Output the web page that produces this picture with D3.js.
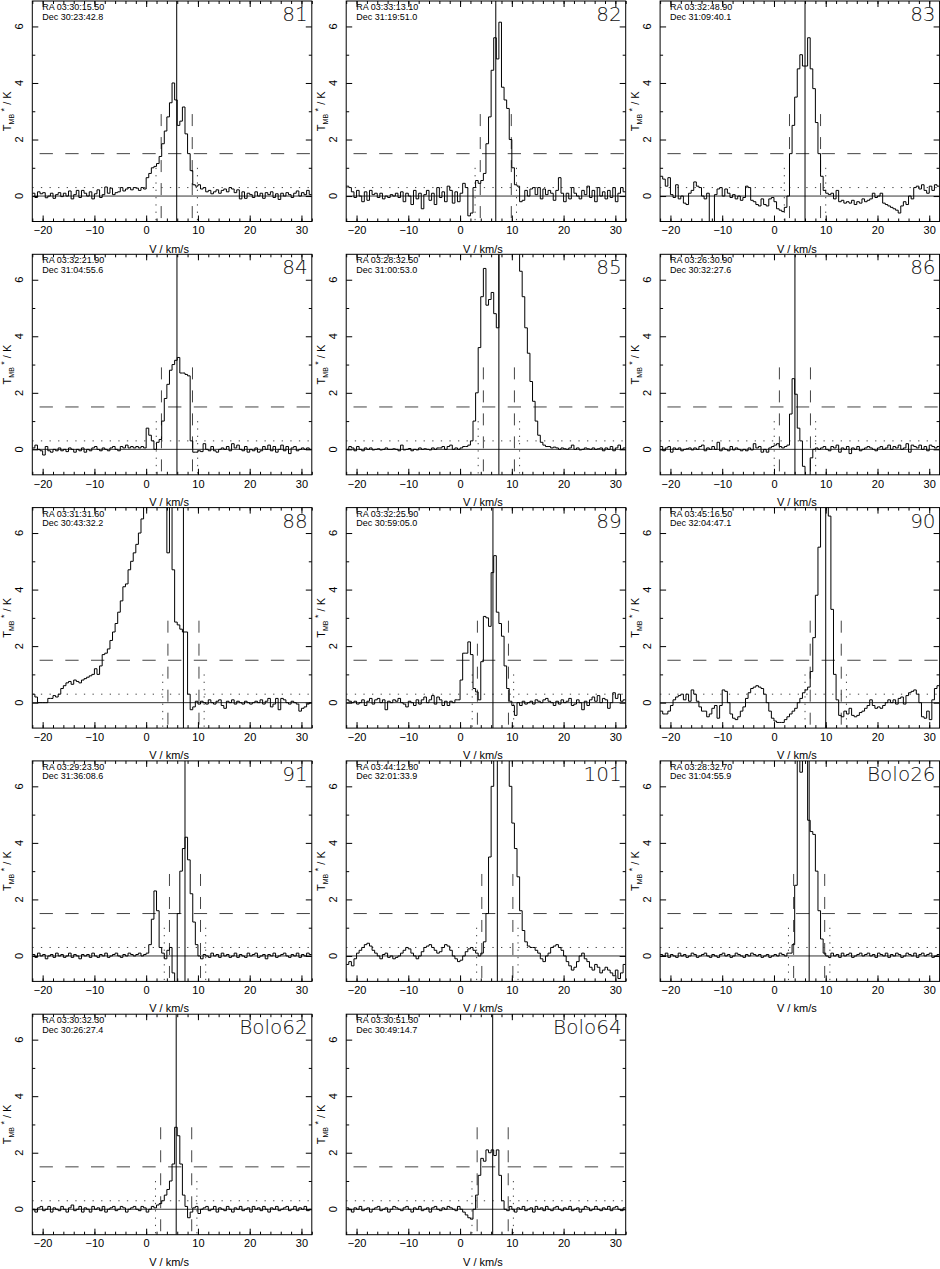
<!DOCTYPE html>
<html>
<head>
<meta charset="utf-8">
<script src="https://cdn.jsdelivr.net/npm/d3@7"></script>
<style>
  body { margin: 0; background: #fff; }
  svg { display: block; font-family: "Liberation Sans", Arial, sans-serif; }
</style>
</head>
<body>
<svg id="chart" width="940" height="1269"></svg>
<script>
// channels: 0.5 km/s wide, first channel starts at -22 km/s (108 channels)
const vStart = -22;
const chanWidth = 0.5;

const spec81 = [
  0.1,-0.05,0.15,0.08,0.12,-0.06,0.0,0.1,-0.08,0.05,0.12,-0.02,0.1,0.0,0.18,-0.1,0.05,0.2,-0.05,0.2,
  0.1,0.0,0.15,-0.1,0.08,0.22,-0.05,0.05,0.32,0.1,0.28,0.05,0.12,0.15,0.3,0.18,0.25,0.3,0.22,0.3,
  0.28,0.2,0.3,0.25,0.65,0.8,1.0,1.05,1.15,1.4,1.85,2.3,2.8,3.3,4.0,3.4,2.5,2.65,3.15,2.2,
  1.5,0.9,0.4,0.35,0.4,0.25,0.3,0.15,0.2,0.08,0.15,0.22,0.1,0.2,0.25,0.15,0.3,0.25,0.12,0.22,
  -0.1,0.15,-0.08,0.1,0.05,-0.05,0.15,0.0,0.1,-0.08,0.12,0.05,0.15,-0.05,0.08,-0.12,0.1,0.0,0.12,0.05,
  -0.05,0.1,0.18,0.0,0.12,0.05,0.2,0.05];
const spec82 = [
  0.35,0.3,0.15,-0.05,0.2,0.0,-0.2,0.15,-0.15,0.2,0.05,0.1,-0.05,0.1,-0.1,0.0,-0.05,0.05,0.0,0.1,
  -0.05,0.15,-0.2,0.1,0.0,-0.3,0.2,-0.1,0.1,-0.45,0.05,0.2,-0.15,0.1,-0.3,0.3,-0.05,0.15,-0.2,0.35,
  0.2,-0.25,0.15,-0.2,0.1,0.45,0.3,-0.7,-0.6,0.3,0.55,0.45,0.55,0.8,1.85,2.8,4.45,5.6,4.85,6.15,
  3.85,3.4,3.1,2.0,1.0,0.4,0.35,-0.2,-0.15,0.2,0.0,0.25,0.3,0.05,0.3,-0.1,0.25,0.05,0.2,0.1,
  -0.15,0.2,0.65,0.1,-0.2,0.1,-0.1,0.3,0.1,0.0,-0.1,0.2,0.05,0.35,-0.05,0.2,-0.2,0.3,0.0,0.15,
  -0.1,0.2,-0.05,0.3,-0.2,0.1,0.3,0.15];
const spec83 = [
  0.7,0.6,0.35,0.65,0.05,-0.05,0.4,-0.1,0.0,-0.25,-0.3,0.1,0.2,0.5,0.35,0.3,0.0,-0.1,0.1,-0.9,
  -0.9,0.05,0.25,0.3,0.0,0.25,0.1,-0.05,0.05,-0.1,0.0,-0.15,-0.05,0.35,0.3,-0.15,-0.2,-0.3,-0.35,-0.1,
  -0.3,-0.35,-0.1,-0.05,-0.2,-0.45,-0.5,-0.55,-0.4,0.0,1.5,2.5,3.5,4.5,5.0,4.6,4.6,5.6,4.5,3.8,
  2.6,1.5,0.7,0.2,0.1,0.05,0.1,-0.1,0.2,-0.2,-0.15,-0.25,-0.2,-0.25,-0.15,-0.3,-0.2,-0.25,-0.1,-0.2,
  -0.15,-0.1,0.1,-0.05,0.0,0.1,-0.25,-0.3,-0.35,-0.4,-0.45,-0.5,-0.6,-0.35,-0.2,-0.3,0.0,-0.1,0.3,0.35,
  0.25,0.4,0.2,0.1,0.35,0.2,0.4,0.35];
const spec84 = [
  0.05,0.15,0.0,-0.05,-0.2,0.1,-0.05,-0.1,0.0,-0.05,0.05,-0.05,0.0,-0.08,0.05,0.0,-0.1,0.0,-0.05,0.05,
  -0.1,0.0,-0.05,0.05,0.1,0.0,-0.05,0.05,0.0,-0.05,0.05,0.1,0.0,-0.05,0.1,0.05,0.15,0.05,0.1,0.05,
  0.1,0.05,0.1,0.05,0.75,0.5,0.3,0.0,0.25,0.35,1.0,1.8,2.3,2.8,3.0,3.15,3.25,2.7,2.7,2.65,
  2.6,0.3,-0.1,-0.1,-0.05,-0.08,0.2,0.0,-0.05,0.1,-0.05,-0.1,0.0,0.05,0.0,0.1,-0.05,0.2,0.05,0.15,
  0.0,-0.05,0.1,-0.1,0.0,-0.05,0.05,-0.1,-0.05,0.1,0.0,0.15,-0.05,0.1,-0.1,0.0,0.15,-0.05,0.1,-0.15,
  0.05,0.1,-0.05,0.0,0.05,0.0,0.05,0.0];
const spec85 = [
  0.0,0.1,0.05,-0.05,0.1,0.0,-0.05,0.05,0.0,0.05,-0.02,0.0,0.02,-0.02,0.0,0.05,0.0,0.0,0.02,0.0,
  -0.05,0.15,-0.02,0.0,0.03,-0.05,0.0,-0.02,0.05,0.0,0.02,0.0,-0.02,0.05,0.0,0.05,0.05,0.1,0.0,0.1,
  0.15,0.0,0.05,0.0,0.05,0.1,0.1,0.15,0.3,1.0,2.0,3.6,5.4,6.4,5.1,5.3,5.55,4.8,4.3,9.0,
  10,10,9.5,9,8.5,8,7.5,6.3,5.4,4.3,3.4,2.4,1.7,1.0,0.5,0.25,0.15,0.1,0.1,0.05,
  0.08,0.05,0.0,0.05,0.02,0.0,0.05,0.15,0.0,0.05,-0.02,0.0,0.05,0.02,0.0,0.05,0.0,0.02,0.05,-0.05,
  0.05,0.0,0.1,-0.05,0.05,0.15,0.0,0.05];
const spec86 = [
  0.1,-0.05,0.05,0.1,-0.1,0.05,0.0,0.05,-0.05,0.0,0.02,0.05,-0.02,0.05,0.0,0.1,0.15,-0.05,0.05,0.0,
  0.1,0.0,0.25,-0.05,0.05,0.0,-0.05,0.1,-0.02,0.05,0.0,-0.05,0.0,-0.05,0.05,-0.02,0.2,0.05,0.1,-0.1,
  0.0,-0.1,0.05,0.1,0.15,0.2,0.1,0.05,0.1,0.15,1.25,2.5,1.95,0.75,0.3,-0.6,-1.2,-1.2,-0.3,0.0,
  0.05,0.0,0.05,0.1,0.0,-0.05,0.1,0.05,0.15,-0.1,0.05,0.0,0.1,-0.15,0.05,0.0,0.1,-0.05,0.0,0.05,
  0.1,0.05,0.0,-0.05,0.05,0.1,0.0,0.05,0.15,0.0,0.1,0.05,0.15,0.0,0.05,0.2,-0.1,0.15,0.1,0.05,
  0.15,0.0,0.1,-0.05,0.15,0.1,0.05,0.1];
const spec88 = [
  0.3,0.2,0.0,0.0,0.0,0.0,0.15,0.15,0.25,0.2,0.3,0.5,0.6,0.7,0.75,0.65,0.8,0.75,0.7,0.8,
  0.85,0.9,0.95,1.0,1.2,1.0,1.3,1.7,1.75,1.9,2.2,2.5,2.8,3.2,3.6,4.1,4.2,4.7,5.0,5.3,
  5.6,6.0,6.5,7.5,9,10,11,12,12,11,10,9,5.3,9,4.7,2.85,2.75,2.6,2.5,2.5,
  0.3,-0.25,-0.15,0.05,-0.05,0.05,0.0,-0.05,0.1,0.0,-0.05,0.05,0.1,-0.1,-0.2,0.05,0.0,0.1,-0.05,0.05,
  0.0,-0.05,0.05,0.0,-0.05,0.0,0.05,0.0,0.1,-0.05,0.05,0.15,-0.15,-0.05,0.15,-0.25,0.15,0.1,0.0,-0.05,
  0.05,0.0,-0.05,-0.3,-0.2,-0.15,-0.05,0.0];
const spec89 = [
  0.1,0.05,0.0,0.05,-0.05,0.0,0.1,-0.1,0.05,0.15,-0.05,0.1,0.15,0.0,0.1,-0.25,0.05,0.0,0.1,0.05,
  0.15,0.0,-0.05,-0.15,0.05,0.0,-0.1,0.1,-0.05,0.1,0.2,0.0,0.1,0.25,-0.05,0.2,0.1,-0.1,0.05,-0.1,
  0.05,0.0,0.1,0.1,0.8,1.75,1.75,2.15,1.7,0.5,0.38,0.1,1.45,3.05,3.0,2.7,4.6,5.2,3.2,2.8,
  2.35,1.3,0.5,0.05,-0.1,-0.45,0.0,-0.1,0.05,-0.05,0.0,0.05,-0.05,0.1,0.05,0.0,0.1,0.15,0.05,0.0,
  -0.1,0.05,-0.05,0.1,0.0,0.05,0.15,-0.1,-0.05,0.1,0.0,-0.25,0.05,-0.1,0.1,0.2,0.05,0.25,0.0,0.15,
  0.1,-0.2,0.0,0.35,0.15,0.3,0.05,0.1];
const spec90 = [
  -0.3,-0.4,-0.4,-0.3,-0.1,0.1,0.2,0.25,0.3,0.1,0.3,0.05,0.45,0.3,0.05,-0.15,-0.3,-0.3,-0.5,-0.4,
  -0.2,-0.1,-0.55,-0.1,0.45,0.4,0.0,-0.4,-0.55,-0.6,-0.5,-0.3,-0.15,0.15,0.35,0.5,0.55,0.6,0.55,0.5,
  0.3,0.0,-0.3,-0.55,-0.65,-0.7,-0.7,-0.7,-0.6,-0.5,-0.4,-0.3,-0.2,0.0,0.15,0.35,0.45,0.55,1.1,2.3,
  3.8,5.5,8,9,8.5,6.6,3.3,1.0,0.1,-0.45,-0.5,-0.3,-0.4,-0.2,-0.45,-0.5,-0.45,-0.35,-0.3,-0.2,
  -0.1,0.1,-0.1,-0.2,-0.15,-0.2,-0.1,0.0,0.1,0.0,0.1,-0.05,0.15,0.2,-0.05,0.25,0.35,0.4,0.45,0.3,
  0.0,-0.5,-0.55,-0.3,-0.6,0.1,0.5,0.6];
const spec91 = [
  0.05,-0.05,0.1,0.0,0.05,-0.1,0.0,0.05,-0.05,0.1,0.0,0.05,-0.05,0.0,0.1,-0.05,0.05,0.0,-0.1,0.05,
  0.0,0.05,-0.05,0.1,0.0,-0.05,0.05,0.0,0.1,-0.05,0.0,0.05,0.1,0.0,-0.05,0.05,0.0,0.1,0.05,0.0,
  0.05,0.1,0.0,0.05,0.1,0.4,1.3,2.3,1.6,0.3,0.1,-0.1,0.2,0.3,-0.6,-1.2,1.5,3.0,3.8,4.2,
  3.4,2.2,1.2,0.4,0.0,-0.1,0.05,0.0,-0.05,0.1,0.0,0.05,-0.05,0.1,0.0,0.05,-0.05,0.0,0.1,-0.05,
  0.05,0.0,-0.05,0.1,0.0,0.05,0.1,-0.05,0.0,0.05,-0.1,0.05,0.0,0.1,-0.05,0.0,0.05,0.1,0.0,-0.05,
  0.05,0.0,0.1,-0.05,0.05,0.0,0.1,0.05];
const spec101 = [
  -0.3,-0.2,-0.35,-0.1,0.1,0.2,0.3,0.4,0.45,0.35,0.2,0.1,0.0,-0.1,0.05,0.1,-0.05,0.0,-0.1,-0.05,
  0.0,0.1,0.2,0.3,0.25,0.1,0.0,-0.1,0.0,0.15,0.3,0.35,0.4,0.3,0.2,0.1,0.15,0.3,0.4,0.35,
  0.2,0.0,-0.1,-0.2,-0.15,0.0,0.15,0.25,0.3,0.2,0.1,0.0,0.1,0.5,1.5,3.5,6.0,8.0,9.0,9.0,
  9.0,9.0,8.0,6.0,4.7,3.8,2.8,1.6,0.9,0.5,0.35,0.3,0.3,0.2,0.1,-0.1,-0.2,0.0,0.1,0.3,
  0.35,0.4,0.3,0.2,0.0,-0.2,-0.35,-0.5,-0.4,-0.2,0.0,0.1,-0.1,-0.2,-0.4,-0.5,-0.3,-0.4,-0.6,-0.5,
  -0.4,-0.5,-0.6,-0.7,-0.5,-0.8,-0.6,-0.3];
const specBolo26 = [
  0.05,0.0,0.1,-0.05,0.05,0.0,-0.05,0.1,0.0,0.05,-0.05,0.0,0.1,0.05,-0.05,0.0,0.05,0.1,0.0,-0.05,
  0.05,0.0,-0.05,0.05,0.1,0.0,0.05,-0.05,0.0,0.1,0.05,0.0,-0.05,0.05,0.0,0.1,0.05,0.0,0.05,-0.05,
  0.0,0.05,-0.05,0.0,0.05,0.0,0.1,0.05,0.0,0.1,0.1,0.4,2.5,9.0,6.5,9.0,9.0,4.8,4.4,4.3,
  3.0,1.6,0.6,0.1,0.0,-0.05,0.1,0.0,0.05,-0.05,0.1,0.0,0.05,0.1,-0.05,0.0,0.05,0.1,0.0,0.05,
  0.1,0.0,0.05,-0.05,0.1,0.05,0.0,0.1,-0.05,0.05,0.0,0.1,0.05,-0.05,0.0,0.1,0.05,0.0,0.1,-0.05,
  0.05,0.1,0.0,0.05,0.1,-0.05,0.0,0.05];
const specBolo62 = [
  0.0,-0.1,0.05,0.1,-0.05,0.0,0.1,-0.1,0.05,0.0,-0.05,0.1,0.0,-0.1,0.05,0.15,-0.05,0.0,0.1,-0.1,
  0.05,0.0,-0.1,0.1,0.0,0.05,-0.05,0.1,-0.1,0.0,0.05,0.1,-0.05,0.0,0.1,0.05,-0.1,0.0,0.05,0.1,
  0.0,-0.05,0.1,0.05,-0.1,0.0,0.1,0.05,0.15,0.2,0.3,0.5,0.7,1.0,1.6,2.9,2.6,1.6,0.5,0.1,
  -0.3,-0.1,0.05,0.1,-0.15,0.0,0.05,0.1,-0.05,0.0,0.1,-0.1,0.05,0.0,-0.05,0.1,0.0,-0.1,0.05,0.0,
  0.1,-0.05,0.0,0.05,-0.1,0.1,0.0,0.05,-0.05,0.1,0.0,-0.1,0.05,0.0,0.1,-0.05,0.0,0.05,0.1,-0.05,
  0.0,0.1,-0.05,0.05,0.0,0.1,-0.05,0.0];
const specBolo64 = [
  0.05,0.0,-0.1,0.05,0.0,0.1,-0.05,0.0,0.05,-0.1,0.0,0.05,0.1,-0.05,0.0,0.05,-0.1,0.0,0.1,0.05,
  0.0,-0.05,0.05,0.1,0.0,-0.1,0.05,0.0,0.1,-0.05,0.0,0.05,-0.1,0.05,0.1,0.0,-0.05,0.05,0.0,0.1,
  0.05,0.0,-0.05,0.1,0.0,-0.1,-0.2,-0.3,-0.35,0.0,0.5,1.2,1.8,1.7,2.1,2.0,2.1,1.9,2.1,1.2,
  0.3,0.0,-0.05,0.1,0.0,-0.1,0.05,0.0,0.1,-0.05,0.0,0.05,-0.1,0.1,0.0,0.05,-0.05,0.1,0.0,-0.05,
  0.05,0.1,0.0,-0.05,0.05,0.0,0.1,-0.05,0.0,0.05,-0.1,0.0,0.1,0.05,-0.05,0.0,0.1,0.0,-0.05,0.05,
  0.0,0.1,-0.05,0.05,0.1,0.0,-0.05,0.05];

const panelIds = ["81","82","83","84","85","86","88","89","90","91","101","Bolo26","Bolo62","Bolo64"];
const raLabels = ["03:30:15.50","03:33:13.10","03:32:48.90","03:32:21.90","03:28:32.50","03:26:30.90",
  "03:31:31.60","03:32:25.90","03:45:16.50","03:29:23.30","03:44:12.80","03:28:32.70","03:30:32.30","03:30:51.30"];
const decLabels = ["30:23:42.8","31:19:51.0","31:09:40.1","31:04:55.6","31:00:53.0","30:32:27.6",
  "30:43:32.2","30:59:05.0","32:04:47.1","31:36:08.6","32:01:33.9","31:04:55.9","30:26:27.4","30:49:14.7"];
const vlsr = [5.9, 6.9, 6.0, 5.95, 7.5, 4.05, 7.2, 6.35, 10.0, 7.5, 7.2, 6.8, 5.8, 6.3];
const spectra = [spec81, spec82, spec83, spec84, spec85, spec86, spec88, spec89, spec90,
  spec91, spec101, specBolo26, specBolo62, specBolo64];

const xMajor = [-20, -10, 0, 10, 20, 30];
const xMinor = d3.range(-22, 33, 2);
const yMajor = [0, 2, 4, 6];
const yMinor = [1, 3, 5];
const dashLevel = 1.5;   // horizontal dashed line
const dotLevel = 0.3;    // horizontal dotted line
const dashOff = 3;       // vertical dashed lines at vlsr +/- 3
const dotOff = 4;        // vertical dotted lines at vlsr +/- 4

const svg = d3.select("#chart");
const pw = 279.5, ph = 220.5;
const colX = [32.3, 346.2, 660.1];
const rowY = [1, 254.3, 507.6, 760.9, 1014.2];

const x = d3.scaleLinear().domain([-22, 32]).range([0, pw]);
const y = d3.scaleLinear().domain([-0.9, 6.9]).range([ph, 0]);

svg.append("defs").append("clipPath").attr("id", "clip")
  .append("rect").attr("width", pw).attr("height", ph);

const line = d3.line()
  .x(d => x(d[0]))
  .y(d => y(d[1]))
  .curve(d3.curveStepAfter);

const refColor = "#444";

panelIds.forEach((id, k) => {
  const g = svg.append("g")
    .attr("transform", `translate(${colX[k % 3]},${rowY[Math.floor(k / 3)]})`);
  const plot = g.append("g").attr("clip-path", "url(#clip)");

  // horizontal reference lines
  plot.append("line")
    .attr("x1", 0).attr("x2", pw).attr("y1", y(0)).attr("y2", y(0))
    .attr("stroke", "#333").attr("stroke-width", 1);
  plot.append("line")
    .attr("x1", 0).attr("x2", pw).attr("y1", y(dashLevel)).attr("y2", y(dashLevel))
    .attr("stroke", refColor).attr("stroke-width", 1)
    .attr("stroke-dasharray", "13.3,12.4").attr("stroke-dashoffset", 18.4);
  plot.append("line")
    .attr("x1", 0).attr("x2", pw).attr("y1", y(dotLevel)).attr("y2", y(dotLevel))
    .attr("stroke", refColor).attr("stroke-width", 1)
    .attr("stroke-dasharray", "1.3,7.3");

  // vertical lines
  const v0 = vlsr[k];
  plot.append("line")
    .attr("x1", x(v0)).attr("x2", x(v0)).attr("y1", 0).attr("y2", ph)
    .attr("stroke", "#000").attr("stroke-width", 1);
  [v0 - dashOff, v0 + dashOff].forEach(v => {
    plot.append("line")
      .attr("x1", x(v)).attr("x2", x(v)).attr("y1", y(2.9)).attr("y2", ph)
      .attr("stroke", refColor).attr("stroke-width", 1)
      .attr("stroke-dasharray", "12,11");
  });
  [v0 - dotOff, v0 + dotOff].forEach(v => {
    plot.append("line")
      .attr("x1", x(v)).attr("x2", x(v)).attr("y1", y(1.0)).attr("y2", ph)
      .attr("stroke", refColor).attr("stroke-width", 1)
      .attr("stroke-dasharray", "1.3,6");
  });

  // spectrum as a histogram
  const vals = spectra[k];
  const pts = vals.map((t, i) => [vStart + i * chanWidth, t]);
  pts.push([vStart + vals.length * chanWidth, vals[vals.length - 1]]);
  plot.append("path").datum(pts)
    .attr("d", line)
    .attr("fill", "none")
    .attr("stroke", "#000")
    .attr("stroke-width", 1);

  // axes (ticks inward on all sides)
  const styleAxis = sel => {
    sel.select(".domain").remove();
    sel.selectAll("line").attr("stroke", "#000");
    sel.attr("font-size", 11).attr("font-family", "Liberation Sans, Arial, sans-serif");
  };
  g.append("g").attr("transform", `translate(0,${ph})`)
    .call(d3.axisBottom(x).tickValues(xMajor).tickSize(-6).tickPadding(5).tickFormat(d3.format("d")))
    .call(styleAxis);
  g.append("g").attr("transform", `translate(0,${ph})`)
    .call(d3.axisBottom(x).tickValues(xMinor).tickSize(-3).tickFormat(""))
    .call(styleAxis);
  g.append("g")
    .call(d3.axisTop(x).tickValues(xMajor).tickSize(-6).tickFormat(""))
    .call(styleAxis);
  g.append("g")
    .call(d3.axisTop(x).tickValues(xMinor).tickSize(-3).tickFormat(""))
    .call(styleAxis);
  g.append("g")
    .call(d3.axisLeft(y).tickValues(yMajor).tickSize(-6).tickFormat(""))
    .call(styleAxis);
  g.append("g")
    .call(d3.axisLeft(y).tickValues(yMinor).tickSize(-3).tickFormat(""))
    .call(styleAxis);
  g.append("g").attr("transform", `translate(${pw},0)`)
    .call(d3.axisRight(y).tickValues(yMajor).tickSize(-6).tickFormat(""))
    .call(styleAxis);
  g.append("g").attr("transform", `translate(${pw},0)`)
    .call(d3.axisRight(y).tickValues(yMinor).tickSize(-3).tickFormat(""))
    .call(styleAxis);

  // rotated y tick labels
  g.selectAll(".ylab").data(yMajor).enter().append("text")
    .attr("class", "ylab")
    .attr("transform", d => `translate(-9.5,${y(d)}) rotate(-90)`)
    .attr("text-anchor", "middle")
    .attr("font-size", 11)
    .text(d => d);

  // frame
  g.append("rect").attr("width", pw).attr("height", ph)
    .attr("fill", "none").attr("stroke", "#000").attr("stroke-width", 1);

  // axis titles
  g.append("text")
    .attr("x", pw / 2 - 3).attr("y", ph + 31)
    .attr("text-anchor", "middle").attr("font-size", 11)
    .text("V / km/s");
  const yt = g.append("text")
    .attr("transform", `translate(-21,${y(3.0)}) rotate(-90)`)
    .attr("text-anchor", "middle").attr("font-size", 11);
  yt.append("tspan").text("T");
  yt.append("tspan").attr("font-size", 7).attr("dy", 3).text("MB");
  yt.append("tspan").attr("font-size", 9).attr("dy", -7).text(" *");
  yt.append("tspan").attr("dy", 4).text(" / K");

  // position and source name
  g.append("text").attr("x", 10).attr("y", 9).attr("font-size", 9).text("RA " + raLabels[k]);
  g.append("text").attr("x", 10).attr("y", 18.5).attr("font-size", 9).text("Dec " + decLabels[k]);
  g.append("text").attr("x", pw - 4).attr("y", 20)
    .attr("text-anchor", "end").attr("font-size", 20).attr("font-weight", 200)
    .attr("font-family", "'DejaVu Sans', 'Liberation Sans', sans-serif")
    .attr("fill", "#111")
    .text(id);
});
</script>
</body>
</html>
